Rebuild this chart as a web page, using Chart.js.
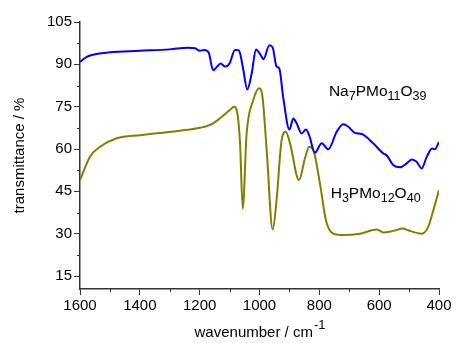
<!DOCTYPE html>
<html>
<head>
<meta charset="utf-8">
<script src="https://cdn.jsdelivr.net/npm/chart.js@4.4.1/dist/chart.umd.min.js"></script>
<style>
  html,body{margin:0;padding:0;background:#fff;}
  #wrap{width:457px;height:343px;}
</style>
</head>
<body>
<div id="wrap"><canvas id="ir"></canvas></div>
<script>
// Na7PMo11O39 spectrum (wavenumber / cm-1, transmittance / %)
const naWn = [1600,1580,1560,1500,1400,1300,1240,1215,1200,1185,1170,1155,1140,1130,1115,1100,1082,1070,1065,1054,1041,1026,1012,993,987,967,956,943,934,921,900,887,876,859,845,834,815,792,770,742,720,703,681,658,620,586,575,553,530,508,491,475,458,441,423,414,400];
const naT  = [90.9,92.5,93.3,94.3,94.8,95.3,95.9,95.7,94.8,95.1,94.2,87.9,89.4,90.3,89.2,90.3,95.1,95.0,93.9,88.0,81.1,86.8,95.3,92.7,91.8,96.8,96.0,89.2,88.6,78.5,66.9,70.8,69.1,65.5,66.9,64.9,58.7,62.0,59.9,66.1,68.8,67.9,65.7,65.3,62.0,58.4,57.8,54.3,53.5,54.9,56.3,55.5,53.1,57.2,60.2,59.9,62.5];

// H3PMo12O40 spectrum
const hWn = [1600,1567,1533,1477,1399,1333,1266,1199,1155,1099,1085,1074,1065,1056,1043,1021,1001,990,976,956,943,926,912,898,868,848,834,820,798,778,753,720,664,608,597,586,553,519,503,458,436,419,400];
const hT  = [49.0,57.2,60.8,63.8,64.9,65.7,66.5,67.5,69.1,73.8,75.0,72.6,62.0,38.9,65.5,77.3,81.5,78.5,59.6,31.5,41.9,63.2,66.1,62.0,49.0,56.7,60.8,59.6,47.8,34.8,30.0,29.5,30.0,31.5,31.0,30.4,31.0,31.8,31.2,30.0,32.4,38.3,45.4];

const xMajor = [1600,1400,1200,1000,800,600,400];
const xMinor = [1500,1300,1100,900,700,500];
const yMajor = [15,30,45,60,75,90,105];
const yMinor = [22.5,37.5,52.5,67.5,82.5,97.5];

const FONT = '"Liberation Sans", Arial, sans-serif';
const AXIS = '#333';

const pts = (xs, ys) => xs.map((x,i)=>({x, y: ys[i]}));

// formula labels: [text, isSub]
const labels = [
  {wn: 768, t: 78.8, parts: [['Na',0],['7',1],['PMo',0],['11',1],['O',0],['39',1]]},
  {wn: 762, t: 42.7, parts: [['H',0],['3',1],['PMo',0],['12',1],['O',0],['40',1]]}
];

const extras = {
  id: 'extras',
  afterDraw(chart){
    const {ctx, chartArea:a, scales:{x, y}} = chart;
    ctx.save();
    // minor ticks
    ctx.strokeStyle = AXIS; ctx.lineWidth = 1;
    ctx.beginPath();
    xMinor.forEach(v=>{ const p = Math.round(x.getPixelForValue(v))+0.5; ctx.moveTo(p, a.bottom); ctx.lineTo(p, a.bottom+3); });
    yMinor.forEach(v=>{ const p = Math.round(y.getPixelForValue(v))+0.5; ctx.moveTo(a.left, p); ctx.lineTo(a.left-3, p); });
    ctx.stroke();

    ctx.fillStyle = '#000';
    // formula labels
    labels.forEach(l=>{
      let px = x.getPixelForValue(l.wn);
      const py = y.getPixelForValue(l.t);
      ctx.textAlign = 'left'; ctx.textBaseline = 'alphabetic';
      l.parts.forEach(([s, sub])=>{
        ctx.font = (sub ? '12.5px ' : '15.5px ') + FONT;
        ctx.fillText(s, px, sub ? py+4 : py);
        px += ctx.measureText(s).width;
      });
    });

    // x title with superscript
    const main = 'wavenumber / cm', sup = '-1';
    ctx.font = '15px ' + FONT; const w1 = ctx.measureText(main).width;
    ctx.font = '13px ' + FONT; const w2 = ctx.measureText(sup).width;
    let sx = (a.left + a.right)/2 - (w1 + w2)/2;
    ctx.font = '15px ' + FONT; ctx.fillText(main, sx, 337);
    ctx.font = '13px ' + FONT; ctx.fillText(sup, sx + w1 + 1, 329);

    // y title
    ctx.translate(20, (a.top + a.bottom)/2);
    ctx.rotate(-Math.PI/2);
    ctx.font = '15px ' + FONT; ctx.textAlign = 'center'; ctx.textBaseline = 'middle';
    ctx.fillText('transmittance / %', 0, 0);
    ctx.restore();
  }
};

new Chart(document.getElementById('ir'), {
  type: 'line',
  data: {
    datasets: [
      { label: 'Na7PMo11O39', data: pts(naWn, naT), borderColor: '#0000ff', borderWidth: 2, pointRadius: 0, cubicInterpolationMode: 'monotone' },
      { label: 'H3PMo12O40', data: pts(hWn, hT), borderColor: '#808000', borderWidth: 2, pointRadius: 0, cubicInterpolationMode: 'monotone' }
    ]
  },
  options: {
    responsive: true, maintainAspectRatio: false, animation: false,
    layout: { padding: { top: 22, right: 18, bottom: 0, left: 0 } },
    plugins: { legend: { display: false }, tooltip: { enabled: false } },
    scales: {
      x: {
        type: 'linear', reverse: true, min: 400, max: 1600,
        afterBuildTicks: s => { s.ticks = xMajor.map(v=>({value: v})); },
        afterFit: s => { s.height = 54; },
        ticks: { font: { size: 15, family: FONT }, color: '#000', padding: 2, maxRotation: 0, callback: v => String(v) },
        grid: { drawOnChartArea: false, tickLength: 6, color: AXIS, tickWidth: 1 },
        border: { display: true, color: AXIS, width: 1.5 }
      },
      y: {
        min: 10.4, max: 105,
        afterBuildTicks: s => { s.ticks = yMajor.map(v=>({value: v})); },
        afterFit: s => { s.width = 80; },
        ticks: { font: { size: 15, family: FONT }, color: '#000', padding: 2, callback: v => String(v) },
        grid: { drawOnChartArea: false, tickLength: 6, color: AXIS, tickWidth: 1 },
        border: { display: true, color: AXIS, width: 1.5 }
      }
    }
  },
  plugins: [extras]
});
</script>
</body>
</html>
